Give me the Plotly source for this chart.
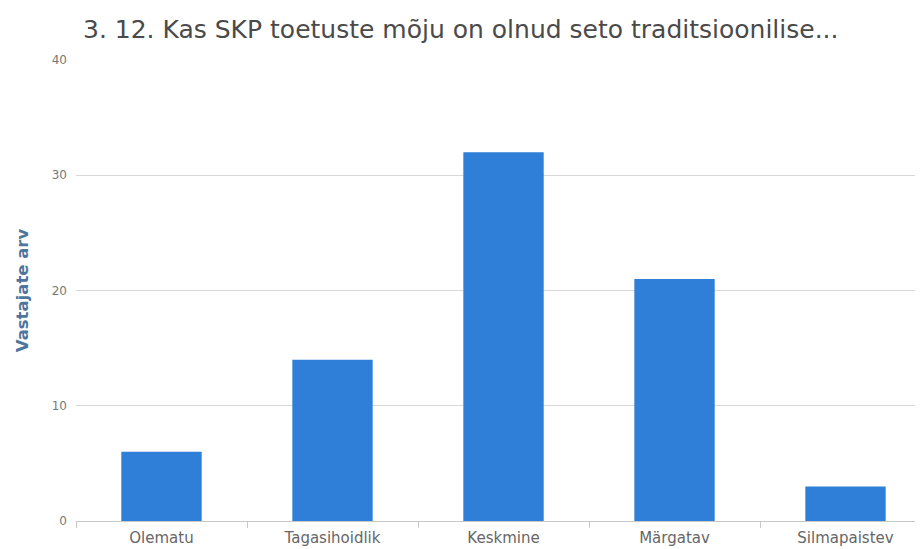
import plotly.graph_objects as go

categories = ["Olematu", "Tagasihoidlik", "Keskmine", "Märgatav", "Silmapaistev"]
counts = [6, 14, 32, 21, 3]

fig = go.Figure()
fig.add_trace(go.Bar(x=categories, y=counts, marker=dict(color="#2f7ed8", line=dict(width=0)),
                     width=0.47))

fig.update_layout(
    width=923, height=549,
    margin=dict(l=68, r=0, t=52, b=36),
    paper_bgcolor="white", plot_bgcolor="white",
    font=dict(family="DejaVu Sans, sans-serif", color="#666"),
    title=dict(text="3. 12. Kas SKP toetuste mõju on olnud seto traditsioonilise...",
               x=75 / 923, xref="container", xanchor="left",
               y=1 - 21 / 549, yref="container", yanchor="middle",
               font=dict(size=25, color="#4a4a4a")),
    showlegend=False,
)
fig.update_xaxes(range=[-0.5, 4.5], tickson="boundaries", ticks="outside", ticklen=6,
                 tickcolor="#c8c8c8", showline=True, linecolor="#c8c8c8",
                 tickfont=dict(size=15, color="#666"), ticklabelstandoff=3, showgrid=False)
fig.update_yaxes(range=[0, 40], dtick=10, gridcolor="#d8d8d8", zeroline=False,
                 tickfont=dict(size=12, color="#777"), ticklabelstandoff=8,
                 title=dict(text="Vastajate arv", font=dict(size=16.5, color="#4d759e", weight="bold"),
                            standoff=18))

fig.write_html("out.html")
